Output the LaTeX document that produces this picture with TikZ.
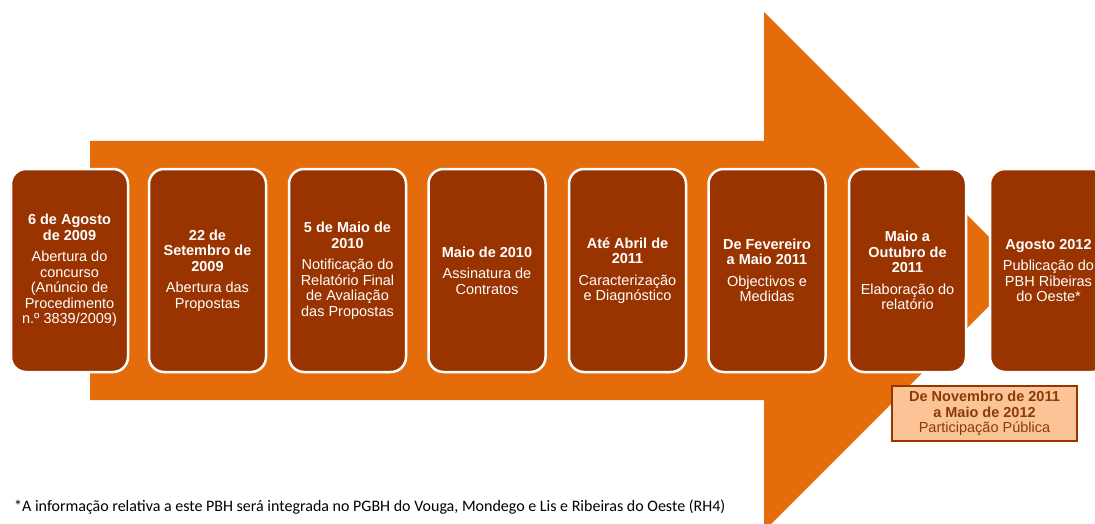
\documentclass[tikz,border=0pt]{standalone}
\usepackage{fontspec}
\setmainfont{Liberation Sans}
\newfontfamily\calibri{Carlito}
\definecolor{arroworange}{RGB}{228,108,10}
\definecolor{boxbrown}{RGB}{153,51,0}
\definecolor{peach}{RGB}{250,196,150}
\definecolor{pptext}{RGB}{140,58,10}
\begin{document}
\begin{tikzpicture}[x=1pt,y=-1pt,
  stage/.style={draw=white, line width=2.5pt, fill=boxbrown, rounded corners=15pt,
    minimum width=117pt, minimum height=203pt, text=white, align=center,
    font=\fontsize{14.5}{15.5}\selectfont, inner sep=0pt},
  ppbox/.style={draw=boxbrown, line width=2pt, fill=peach, minimum width=185pt,
    minimum height=55pt, text=pptext, align=center,
    font=\fontsize{14.5}{15.5}\selectfont, inner sep=0pt},
  note/.style={anchor=west, inner sep=0pt, font=\calibri\fontsize{16}{18}\selectfont}
]
\useasboundingbox (0,0) rectangle (1095,524);
\clip (0,0) rectangle (1095,524);
\fill[arroworange] (90,141) -- (764,141) -- (764,12) -- (1023.5,271.5) -- (764,531) -- (764,400) -- (90,400) -- cycle;

\node[stage] (s1) at (69.5,270.5) {\textbf{6 de Agosto}\\\textbf{de 2009}\\[6pt]Abertura do\\concurso\\(Anúncio de\\Procedimento\\n.º 3839/2009)};
\node[stage] (s2) at (207.5,270.5) {\textbf{22 de}\\\textbf{Setembro de}\\\textbf{2009}\\[6pt]Abertura das\\Propostas};
\node[stage] (s3) at (347.5,270.5) {\textbf{5 de Maio de}\\\textbf{2010}\\[6pt]Notificação do\\Relatório Final\\de Avaliação\\das Propostas};
\node[stage] (s4) at (487,270.5) {\textbf{Maio de 2010}\\[6pt]Assinatura de\\Contratos};
\node[stage] (s5) at (627.5,270.5) {\textbf{Até Abril de}\\\textbf{2011}\\[6pt]Caracterização\\e Diagnóstico};
\node[stage] (s6) at (767,270.5) {\textbf{De Fevereiro}\\\textbf{a Maio 2011}\\[6pt]Objectivos e\\Medidas};
\node[stage] (s7) at (907.5,270.5) {\textbf{Maio a}\\\textbf{Outubro de}\\\textbf{2011}\\[6pt]Elaboração do\\relatório};
\node[stage] (s8) at (1048.5,270.5) {\textbf{Agosto 2012}\\[6pt]Publicação do\\PBH Ribeiras\\do Oeste*};

\node[ppbox] (pp) at (984.5,413.5) {\textbf{De Novembro de 2011}\\\textbf{a Maio de 2012}\\Participação Pública};

\node[note] (fn) at (14,507) {*A informação relativa a este PBH será integrada no PGBH do Vouga, Mondego e Lis e Ribeiras do Oeste (RH4)};
\end{tikzpicture}
\end{document}
